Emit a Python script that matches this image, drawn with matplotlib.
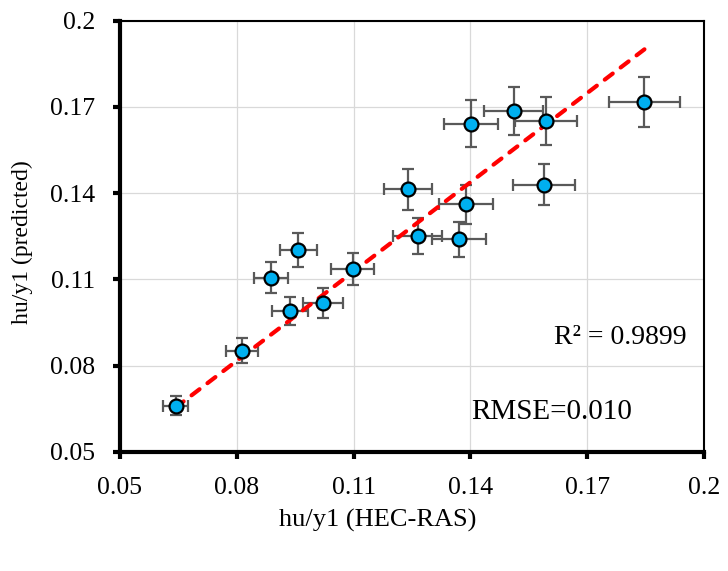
import numpy as np
import matplotlib
matplotlib.use("Agg")
import matplotlib.pyplot as plt

# Data
hec_ras = [0.0643, 0.0813, 0.0888, 0.0958, 0.0937, 0.1021, 0.1098, 0.1239,
           0.1389, 0.1265, 0.1371, 0.1401, 0.1511, 0.1595, 0.1589, 0.1847]
predicted = [0.0661, 0.0852, 0.1106, 0.1202, 0.0990, 0.1018, 0.1136, 0.1413,
             0.1361, 0.1251, 0.1239, 0.1641, 0.1686, 0.1650, 0.1429, 0.1717]
x_err = [0.0032, 0.0041, 0.0044, 0.0048, 0.0047, 0.0051, 0.0055, 0.0062,
         0.0069, 0.0063, 0.0069, 0.0070, 0.0076, 0.0080, 0.0079, 0.0092]
y_err = [0.0033, 0.0043, 0.0055, 0.0060, 0.0050, 0.0051, 0.0057, 0.0071,
         0.0068, 0.0063, 0.0062, 0.0082, 0.0084, 0.0083, 0.0071, 0.0086]
trend_slope = 1.034
trend_intercept = -0.001
ticks = [0.05, 0.08, 0.11, 0.14, 0.17, 0.2]
tick_labels = ["0.05", "0.08", "0.11", "0.14", "0.17", "0.2"]

plt.rcParams['font.family'] = ['Liberation Serif', 'DejaVu Serif']

fig = plt.figure(figsize=(7.28, 5.71), dpi=100)
ax = fig.add_axes([120/728, 1-452/571, (704-120)/728, (452-20.5)/571])

ax.grid(True, color='#D9D9D9', linewidth=0.9, zorder=0)
ax.set_axisbelow(True)

ax.errorbar(hec_ras, predicted, xerr=x_err, yerr=y_err, fmt='none',
            ecolor='#595959', elinewidth=1.6, capsize=4, capthick=1.6, zorder=2)

xs = np.array([min(hec_ras), max(hec_ras)])
ax.plot(xs, trend_slope * xs + trend_intercept, color='#FF0000', linewidth=3,
        linestyle=(0, (2.4, 2.4)), dash_capstyle='round', solid_capstyle='round', zorder=3)

ax.plot(hec_ras, predicted, 'o', markersize=10, markerfacecolor='#00B0F0',
        markeredgecolor='black', markeredgewidth=1.6, zorder=4)

ax.set_xlim(0.05, 0.2)
ax.set_ylim(0.05, 0.2)
ax.set_xticks(ticks)
ax.set_xticklabels(tick_labels)
ax.set_yticks(ticks)
ax.set_yticklabels(tick_labels)
ax.tick_params(axis='both', direction='out', length=5, width=3, labelsize=18.5,
               colors='black')
ax.tick_params(axis='x', pad=13)
ax.tick_params(axis='y', pad=13)

for side in ['left', 'bottom']:
    ax.spines[side].set_linewidth(3)
for side in ['top', 'right']:
    ax.spines[side].set_linewidth(1.5)

fig.text(378/728, 1-520/571, "hu/y1 (HEC-RAS)", ha='center', va='center', fontsize=19)
fig.text(22/728, 1-242/571, "hu/y1 (predicted)", ha='center', va='center',
         fontsize=17, rotation=90)

ax.text(687, 571-337, "R² = 0.9899", transform=None, ha='right', va='center',
        fontsize=20)
fig.text(471/728, 1-412/571, "RMSE=0.010", ha='left', va='center', fontsize=21)

fig.savefig("out.png", dpi=100)
